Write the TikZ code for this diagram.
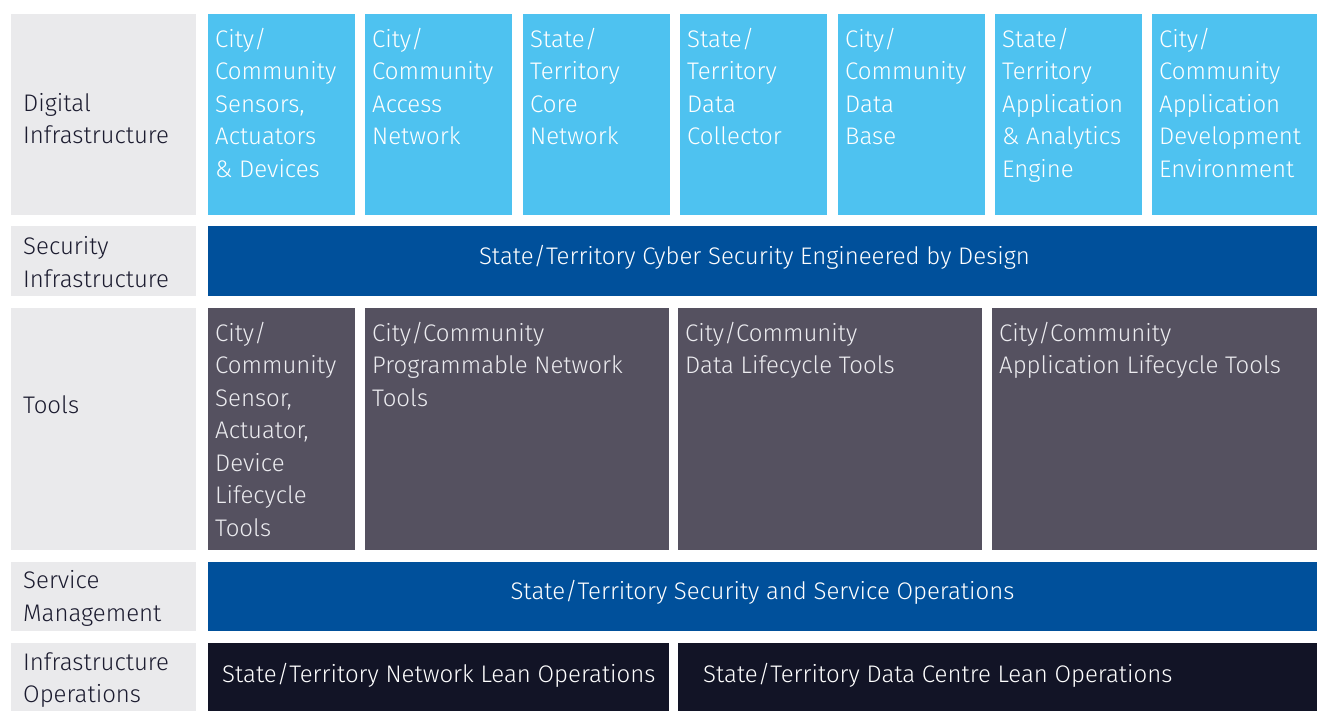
\documentclass[tikz,border=0pt]{standalone}
\usepackage{fontspec}
\setmainfont{Fira Sans Light}
\definecolor{sidegray}{RGB}{234,234,236}
\definecolor{skyblue}{RGB}{78,194,240}
\definecolor{deepblue}{RGB}{0,80,155}
\definecolor{toolgray}{RGB}{85,81,96}
\definecolor{navy}{RGB}{18,20,38}
\definecolor{labink}{RGB}{27,27,47}

\begin{document}
\begin{tikzpicture}[x=1pt,y=-1pt,
  blk/.style={anchor=north west, inner sep=0pt, outer sep=0pt},
  side/.style={blk, fill=sidegray, minimum width=185pt},
  sky/.style={blk, fill=skyblue, minimum height=201pt},
  tool/.style={blk, fill=toolgray, minimum height=242pt},
  wtxt/.style={anchor=north west, align=left, inner sep=0pt,
    font=\fontsize{24}{32.5}\selectfont, text=white},
  ttxt/.style={wtxt, text={rgb,255:red,236;green,236;blue,240}},
  stxt/.style={anchor=west, align=left, inner sep=0pt,
    font=\fontsize{24}{32.5}\selectfont, text=labink},
  btxt/.style={inner sep=0pt, font=\fontsize{24}{32.5}\selectfont, text=white}
]
\useasboundingbox (0,0) rectangle (1317,711);

% left column
\node[side, minimum height=201pt] (digside) at (11,14) {};
\node[side, minimum height=70pt] (secside) at (11,226) {};
\node[side, minimum height=242pt] (toolside) at (11,308) {};
\node[side, minimum height=69pt] (servside) at (11,562) {};
\node[side, minimum height=68pt] (opsside) at (11,643) {};
\node[stxt] (diglab) at ([shift={(12,4)}]digside.west) {Digital\\Infrastructure};
\node[stxt] (seclab) at ([shift={(12,1)}]secside.west) {Security\\Infrastructure};
\node[stxt] (toollab) at ([shift={(12,-24)}]toolside.west) {Tools};
\node[stxt] (servlab) at ([shift={(12,2)}]servside.west) {Service\\Management};
\node[stxt] (opslab) at ([shift={(12,3)}]opsside.west) {Infrastructure\\Operations};

% digital infrastructure
\node[sky, minimum width=147pt] (sens) at (208,14) {};
\node[sky, minimum width=147pt] (access) at (365,14) {};
\node[sky, minimum width=147pt] (core) at (523,14) {};
\node[sky, minimum width=147pt] (collect) at (680,14) {};
\node[sky, minimum width=147pt] (dbase) at (838,14) {};
\node[sky, minimum width=147pt] (engine) at (995,14) {};
\node[sky, minimum width=165pt] (devenv) at (1152,14) {};
\node[wtxt] (senstxt) at ([shift={(7,14)}]sens.north west) {City/\\Community\\Sensors,\\Actuators\\\& Devices};
\node[wtxt] (accesstxt) at ([shift={(7,14)}]access.north west) {City/\\Community\\Access\\Network};
\node[wtxt] (coretxt) at ([shift={(7,14)}]core.north west) {State/\\Territory\\Core\\Network};
\node[wtxt] (collecttxt) at ([shift={(7,14)}]collect.north west) {State/\\Territory\\Data\\Collector};
\node[wtxt] (dbasetxt) at ([shift={(7,14)}]dbase.north west) {City/\\Community\\Data\\Base};
\node[wtxt] (enginetxt) at ([shift={(7,14)}]engine.north west) {State/\\Territory\\Application\\\& Analytics\\Engine};
\node[wtxt] (devenvtxt) at ([shift={(7,14)}]devenv.north west) {City/\\Community\\Application\\Development\\Environment};

% security
\node[blk, fill=deepblue, minimum width=1109pt, minimum height=70pt] (cyber) at (208,226) {};
\node[btxt] (cybertxt) at ([shift={(-8,-4)}]cyber.center) {State/Territory Cyber Security Engineered by Design};

% tools
\node[tool, minimum width=147pt] (sensdev) at (208,308) {};
\node[tool, minimum width=304pt] (progtools) at (365,308) {};
\node[tool, minimum width=304pt] (datatools) at (678,308) {};
\node[tool, minimum width=325pt] (apptools) at (992,308) {};
\node[ttxt] (sensdevtxt) at ([shift={(7,14)}]sensdev.north west) {City/\\Community\\Sensor,\\Actuator,\\Device\\Lifecycle\\Tools};
\node[ttxt] (progtxt) at ([shift={(7,14)}]progtools.north west) {City/Community\\Programmable Network\\Tools};
\node[ttxt] (datatxt) at ([shift={(7,14)}]datatools.north west) {City/Community\\Data Lifecycle Tools};
\node[ttxt] (apptxt) at ([shift={(7,14)}]apptools.north west) {City/Community\\Application Lifecycle Tools};

% service management
\node[blk, fill=deepblue, minimum width=1109pt, minimum height=69pt] (servops) at (208,562) {};
\node[btxt] (servopstxt) at ([yshift=4pt]servops.center) {State/Territory Security and Service Operations};

% infrastructure operations
\node[blk, fill=navy, minimum width=461pt, minimum height=68pt] (netlean) at (208,643) {};
\node[blk, fill=navy, minimum width=639pt, minimum height=68pt] (dclean) at (678,643) {};
\node[btxt, anchor=west] (netleantxt) at ([shift={(14,-2)}]netlean.west) {State/Territory Network Lean Operations};
\node[btxt, anchor=west] (dcleantxt) at ([shift={(25,-2)}]dclean.west) {State/Territory Data Centre Lean Operations};
\end{tikzpicture}
\end{document}
